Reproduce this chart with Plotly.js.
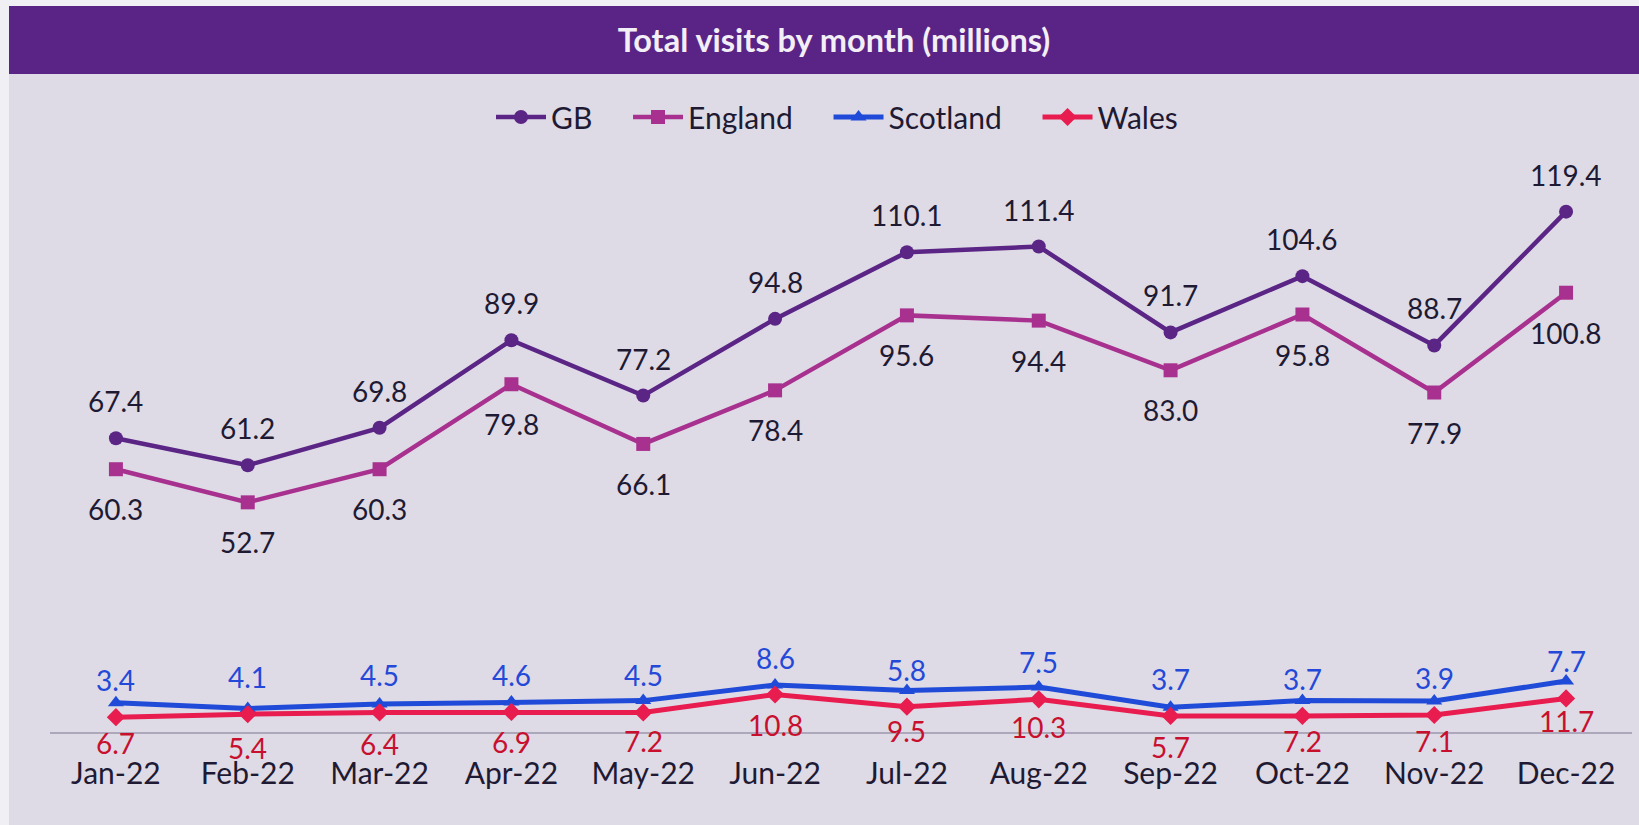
<!DOCTYPE html>
<html>
<head>
<meta charset="utf-8">
<script src="https://cdn.plot.ly/plotly-3.0.1.min.js"></script>
<style>
  html, body { margin: 0; padding: 0; background: #f0eff4; }
  #chart { width: 1639px; height: 825px; }
</style>
</head>
<body>
<div id="chart"></div>
<script>
// ---- data ----
const months = ['Jan-22','Feb-22','Mar-22','Apr-22','May-22','Jun-22','Jul-22','Aug-22','Sep-22','Oct-22','Nov-22','Dec-22'];
const gb       = [67.4, 61.2, 69.8, 89.9, 77.2, 94.8, 110.1, 111.4, 91.7, 104.6, 88.7, 119.4];
const england  = [60.3, 52.7, 60.3, 79.8, 66.1, 78.4, 95.6, 94.4, 83.0, 95.8, 77.9, 100.8];
const scotland = [3.4, 4.1, 4.5, 4.6, 4.5, 8.6, 5.8, 7.5, 3.7, 3.7, 3.9, 7.7];
const wales    = [6.7, 5.4, 6.4, 6.9, 7.2, 10.8, 9.5, 10.3, 5.7, 7.2, 7.1, 11.7];
const seriesNames = ['GB', 'England', 'Scotland', 'Wales'];

// In the reference picture the Scotland (blue) line is drawn at the Wales figures and the
// Wales (red) line at the Scotland figures, while each series' labels show its own figures
// at their own heights. This reproduces the picture as published.

const C = {gb:'#5b2586', eng:'#a8318f', sco:'#1f4bd8', wal:'#e81c4f',
           text:'#1f1a33', scoText:'#2449d8', walText:'#c8102e'};

const GAP = '\u00a0\u00a0\u00a0\u00a0'; // extra spacing between legend entries
const lineTrace = (name, y, color, symbol, w, last) => ({
  type:'scatter', mode:'lines+markers', name: last ? name : name + GAP, x: months, y,
  line:{color, width:w}, marker:{color, size:14, symbol},
  hoverinfo:'skip'
});

const traces = [
  lineTrace(seriesNames[0], gb, C.gb, 'circle', 4.5),
  lineTrace(seriesNames[1], england, C.eng, 'square', 4.5),
  lineTrace(seriesNames[2], wales, C.sco, 'triangle-up', 5),
  lineTrace(seriesNames[3], scotland, C.wal, 'diamond', 5, true)
];

function labels(vals, color, above){
  return vals.map((v,i) => ({
    x: months[i], y: v, xref:'x', yref:'y', text: v.toFixed(1), showarrow:false,
    yshift: above ? 37 : -40, xanchor:'center', yanchor:'middle',
    font:{family:'Lato, sans-serif', size:28, color}
  }));
}
const annotations = [].concat(
  labels(gb, C.text, true),
  labels(england, C.text, false),
  labels(scotland, C.scoText, true),
  labels(wales, C.walText, false)
);

// plot area: x 50..1632 px, y 150..732 px
const PL = 50, PR = 1632, PT = 150, PB = 732;
const px = v => (v - PL) / (PR - PL);
const py = v => (PB - v) / (PB - PT);

const layout = {
  width:1639, height:825,
  margin:{l:PL, r:1639-PR, t:PT, b:825-PB},
  paper_bgcolor:'#f0eff4', plot_bgcolor:'rgba(0,0,0,0)',
  font:{family:'Lato, sans-serif', color:C.text},
  title:{text:'<b>Total visits by month (millions)</b>', x:834/1639, xref:'container', xanchor:'center',
         y:1-41/825, yref:'container', yanchor:'middle',
         font:{family:'Lato, sans-serif', size:32.5, color:'#f3eff7'}},
  shapes:[
    {type:'rect', xref:'paper', yref:'paper', x0:px(9), x1:px(1645), y0:py(830), y1:py(6),
     fillcolor:'#dedbe6', line:{width:0}, layer:'below'},
    {type:'rect', xref:'paper', yref:'paper', x0:px(9), x1:px(1645), y0:py(74), y1:py(6),
     fillcolor:'#5a2486', line:{width:0}, layer:'below'}
  ],
  xaxis:{type:'category', range:[-0.5, 11.5], showgrid:false, zeroline:false, showline:true,
         linecolor:'#aca7bb', linewidth:2, ticks:'', ticklabelstandoff:14,
         tickfont:{size:30, color:C.text}, fixedrange:true},
  yaxis:{range:[0,133.55], showgrid:false, zeroline:false, showline:false, showticklabels:false, fixedrange:true},
  legend:{orientation:'h', x:px(837), xanchor:'center', y:py(117), yanchor:'middle',
          font:{size:30, color:C.text}, bgcolor:'rgba(0,0,0,0)', itemwidth:50},
  annotations,
  showlegend:true
};

Plotly.newPlot('chart', traces, layout, {displayModeBar:false, staticPlot:true});
</script>
</body>
</html>
